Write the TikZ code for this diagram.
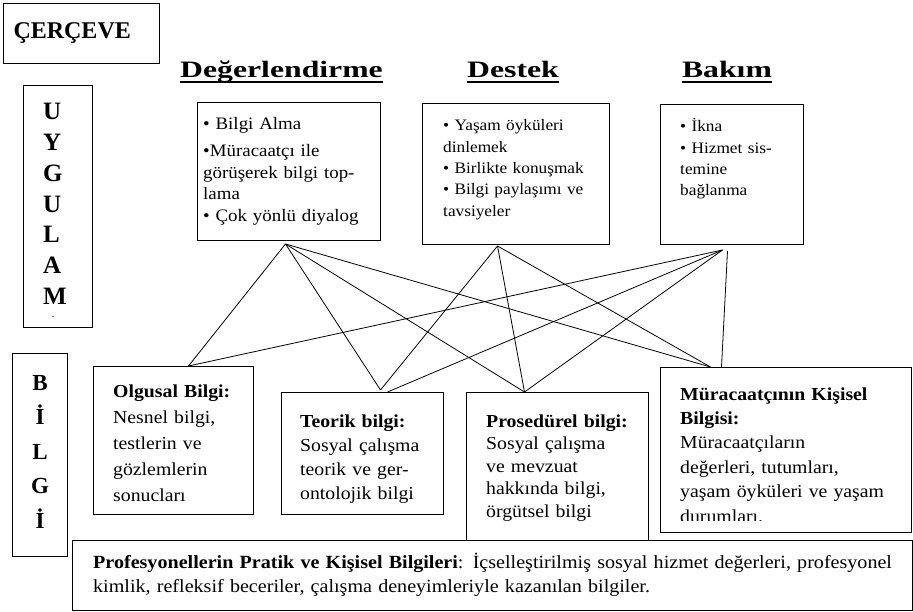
\documentclass[tikz,border=0pt]{standalone}
\usepackage{fontspec}
\setmainfont{Liberation Serif}[FakeStretch=1.08]
\newfontfamily\headfont{Liberation Serif}[FakeStretch=1.35]
\newfontfamily\letterfont{Liberation Serif}
\usepackage{tikz}

\begin{document}
\begin{tikzpicture}[
  x=1pt, y=-1pt,
  box/.style={draw, line width=1pt, inner sep=0pt, anchor=north west},
  txt/.style={anchor=base west, inner sep=0pt, text width=240pt, align=left,
              font=\fontsize{17.5}{21.5}\selectfont},
  head/.style={anchor=base, inner sep=0pt,
               font=\headfont\bfseries\fontsize{23.5}{28}\selectfont},
  letters/.style={inner sep=0pt, text width=30pt, align=left, anchor=base west,
                  font=\letterfont\bfseries\fontsize{25}{30.7}\selectfont},
  uline/.style={line width=1.6pt},
  link/.style={line width=0.8pt}
]
  \useasboundingbox (0,0) rectangle (913,612);

  % Frame title
  \node[box, minimum width=156pt, minimum height=60pt, text width=136pt,
        inner xsep=10pt, align=left,
        font=\letterfont\bfseries\fontsize{24}{28}\selectfont] (frame) at (3,3) {ÇERÇEVE};

  % Side labels
  \node[box, minimum width=69pt, minimum height=242pt] (practice) at (23,85) {};
  \node[letters] (practicetext) at ([xshift=20pt,yshift=-35pt]practice.north west)
    {U\\Y\\G\\U\\L\\A\\M\\[-17pt]\hspace*{9pt}{\fontsize{8}{8}\selectfont .}};

  \node[box, minimum width=55pt, minimum height=203pt] (knowledge) at (12,353) {};
  \node[letters, text width=40pt, align=center, anchor=base,
        font=\letterfont\bfseries\fontsize{23}{34.5}\selectfont]
    (knowledgetext) at ([yshift=-37pt]knowledge.north) {B\\İ\\L\\G\\İ};

  % Headings
  \node[head] (assesshead) at (281.5,78) {Değerlendirme};
  \node[head] (supporthead) at (513,78) {Destek};
  \node[head] (carehead) at (727,78) {Bakım};
  \draw[uline] ([yshift=-4pt]assesshead.base west) -- ([yshift=-4pt]assesshead.base east);
  \draw[uline] ([yshift=-4pt]supporthead.base west) -- ([yshift=-4pt]supporthead.base east);
  \draw[uline] ([yshift=-4pt]carehead.base west) -- ([yshift=-4pt]carehead.base east);

  % Practice boxes
  \node[box, minimum width=183pt, minimum height=138pt] (assess) at (197,102) {};
  \node[txt] (assesstext) at ([xshift=6pt,yshift=-28pt]assess.north west)
    {• Bilgi Alma\\[5.5pt] •Müracaatçı ile\\ görüşerek bilgi top-\\ lama\\ • Çok yönlü diyalog};

  \node[box, minimum width=187pt, minimum height=141pt] (support) at (422,103) {};
  \node[txt, font=\fontsize{16}{21.3}\selectfont] (supporttext)
    at ([xshift=21pt,yshift=-28pt]support.north west)
    {• Yaşam öyküleri\\ dinlemek\\ • Birlikte konuşmak\\ • Bilgi paylaşımı ve\\ tavsiyeler};

  \node[box, minimum width=143pt, minimum height=140pt] (care) at (660,104) {};
  \node[txt, font=\fontsize{16}{21.3}\selectfont] (caretext)
    at ([xshift=20pt,yshift=-28pt]care.north west)
    {• İkna\\ • Hizmet sis-\\ temine\\ bağlanma};

  % Knowledge boxes
  \node[box, minimum width=160pt, minimum height=148pt] (factual) at (93,366) {};
  \node[txt, font=\fontsize{18.3}{26}\selectfont] (factualtext)
    at ([xshift=20pt,yshift=-31pt]factual.north west)
    {\textbf{Olgusal Bilgi:}\\ Nesnel bilgi,\\ testlerin ve\\ gözlemlerin\\ sonucları};

  \node[box, minimum width=162pt, minimum height=122pt] (theory) at (281,392) {};
  \node[txt, font=\fontsize{18.3}{24}\selectfont] (theorytext)
    at ([xshift=19pt,yshift=-35pt]theory.north west)
    {\textbf{Teorik bilgi:}\\ Sosyal çalışma\\ teorik ve ger-\\ ontolojik bilgi};

  \node[box, minimum width=182pt, minimum height=148pt] (procedure) at (466,392) {};
  \node[txt, font=\fontsize{18.3}{22.5}\selectfont] (proceduretext)
    at ([xshift=20pt,yshift=-35pt]procedure.north west)
    {\textbf{Prosedürel bilgi:}\\ Sosyal çalışma\\ ve mevzuat\\ hakkında bilgi,\\ örgütsel bilgi};

  \node[box, minimum width=251pt, minimum height=165pt] (client) at (660,367) {};
  \begin{scope}
    \clip ([yshift=13pt]client.south west) rectangle (client.north east);
    \node[txt, font=\fontsize{18.3}{24.4}\selectfont] (clienttext)
      at ([xshift=20pt,yshift=-33pt]client.north west)
      {\textbf{Müracaatçının Kişisel}\\ \textbf{Bilgisi:}\\ Müracaatçıların\\
       değerleri, tutumları,\\ yaşam öyküleri ve yaşam\\ durumları.};
  \end{scope}

  % Practical knowledge
  \node[box, minimum width=840pt, minimum height=70pt] (practical) at (72,540) {};
  \node[txt, text width=820pt, font=\fontsize{18.6}{24}\selectfont] (practicaltext)
    at ([xshift=21pt,yshift=-28pt]practical.north west)
    {\textbf{Profesyonellerin Pratik ve Kişisel Bilgileri}: İçselleştirilmiş sosyal hizmet değerleri, profesyonel\\
     kimlik, refleksif beceriler, çalışma deneyimleriyle kazanılan bilgiler.};

  % Connector ends
  \coordinate (assessout) at ([xshift=-3.5pt,yshift=-3pt]assess.south);
  \coordinate (supportout) at ([xshift=-18.5pt,yshift=-1pt]support.south);
  \coordinate (careout) at ([xshift=-9.5pt,yshift=-5pt]care.south);
  \coordinate (careout2) at ([xshift=-4.5pt,yshift=-6pt]care.south);
  \coordinate (factualin) at ([xshift=15pt]factual.north);
  \coordinate (theoryin) at ([xshift=18pt,yshift=2pt]theory.north);
  \coordinate (theoryin2) at ([xshift=25pt]theory.north);
  \coordinate (procedurein) at ([xshift=-33pt]procedure.north);
  \coordinate (clientin) at ([xshift=-75.5pt]client.north);
  \coordinate (clientin2) at ([xshift=-64.5pt]client.north);

  % Connectors
  \draw[link] (assessout) -- (factualin);
  \draw[link] (assessout) -- (theoryin);
  \draw[link] (assessout) -- (procedurein);
  \draw[link] (assessout) -- (clientin);

  \draw[link] (supportout) -- (theoryin);
  \draw[link] (supportout) -- (procedurein);
  \draw[link] (supportout) -- (clientin);

  \draw[link] (careout) -- (factualin);
  \draw[link] (careout) -- (theoryin2);
  \draw[link] (careout) -- (procedurein);
  \draw[link] (careout2) -- (clientin2);
\end{tikzpicture}
\end{document}
